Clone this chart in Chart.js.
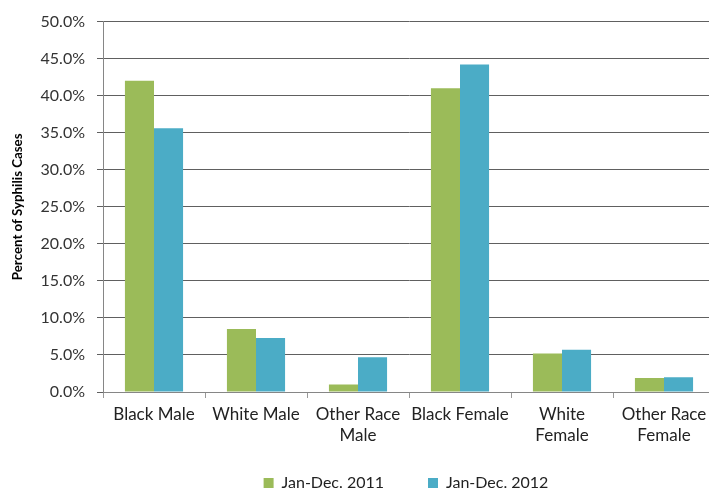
<!DOCTYPE html>
<html>
<head>
<meta charset="utf-8">
<script src="https://cdn.jsdelivr.net/npm/chart.js@4"></script>
<style>
  html, body { margin: 0; padding: 0; background: #fff; overflow: hidden; }
  #wrap { width: 716px; height: 493px; }
</style>
</head>
<body>
<div id="wrap"><canvas id="syphilisChart"></canvas></div>
<script>
// Percent of syphilis cases by race/sex
const categories = [
    'Black Male',
    'White Male',
    ['Other Race', 'Male'],
    'Black Female',
    ['White', 'Female'],
    ['Other Race', 'Female']
];
const cases2011 = [42.0, 8.5, 1.0, 41.0, 5.2, 1.9];
const cases2012 = [35.6, 7.3, 4.7, 44.2, 5.7, 2.0];
const seriesLabels = ['Jan-Dec. 2011', 'Jan-Dec. 2012'];

const fontFamily = 'Lato, "Open Sans", sans-serif';
const legendPad = 44;
const xAxisHeight = 56;
const legendHeight = 45;

// legend: short box, wide item spacing, centred under the plot area
const legendPlacement = {
    id: 'legendPlacement',
    beforeInit(chart) {
        const legend = chart.legend;
        if (!legend) return;
        const fit = legend.fit;
        legend.fit = function() {
            fit.call(this);
            this.height = legendHeight;
        };
    },
    afterLayout(chart) {
        const legend = chart.legend;
        const area = chart.chartArea;
        legend.left = area.left - 6;
        legend.right = area.right;
        legend.width = legend.right - legend.left;
        // the legend clips to its own box, so let it run to the canvas bottom
        legend.top = area.bottom + xAxisHeight + legendHeight - 9 - legendPad - 9;
        legend.bottom = chart.height;
        legend.height = legend.bottom - legend.top;
    }
};

const ctx = document.getElementById('syphilisChart').getContext('2d');
new Chart(ctx, {
    type: 'bar',
    data: {
        labels: categories,
        datasets: [{
            label: seriesLabels[0],
            data: cases2011,
            backgroundColor: '#9BBB59',
            borderWidth: 0
        }, {
            label: seriesLabels[1],
            data: cases2012,
            backgroundColor: '#4BACC6',
            borderWidth: 0
        }]
    },
    plugins: [legendPlacement],
    options: {
        responsive: true,
        maintainAspectRatio: false,
        animation: false,
        layout: {
            autoPadding: false,
            padding: { left: 0, right: 1, top: 13, bottom: 0 }
        },
        plugins: {
            legend: {
                position: 'bottom',
                labels: {
                    boxWidth: 10,
                    boxHeight: 10,
                    padding: legendPad,
                    color: '#222',
                    font: { family: fontFamily, size: 16 }
                }
            },
            tooltip: { enabled: false }
        },
        datasets: {
            bar: {
                categoryPercentage: 0.57,
                barPercentage: 1.0
            }
        },
        scales: {
            x: {
                afterFit: function(scale) { scale.height = xAxisHeight; },
                grid: {
                    offset: true,
                    drawOnChartArea: false,
                    drawTicks: true,
                    tickLength: 6,
                    color: '#999'
                },
                border: { color: '#868686' },
                ticks: {
                    color: '#222',
                    padding: 6,
                    maxRotation: 0,
                    autoSkip: false,
                    font: { family: fontFamily, size: 17, lineHeight: 1.24 }
                }
            },
            y: {
                min: 0,
                max: 50,
                afterFit: function(scale) { scale.width = 103; },
                grid: {
                    color: '#606060',
                    tickLength: 6
                },
                border: { color: '#868686' },
                ticks: {
                    stepSize: 5,
                    color: '#333',
                    padding: 12,
                    font: { family: fontFamily, size: 16 },
                    callback: function(value) { return value.toFixed(1) + '%'; }
                },
                title: {
                    display: true,
                    text: 'Percent of Syphilis Cases',
                    color: '#000',
                    padding: { top: 10, bottom: 0 },
                    font: { family: fontFamily, size: 13.3, weight: 'bold' }
                }
            }
        }
    }
});
</script>
</body>
</html>
